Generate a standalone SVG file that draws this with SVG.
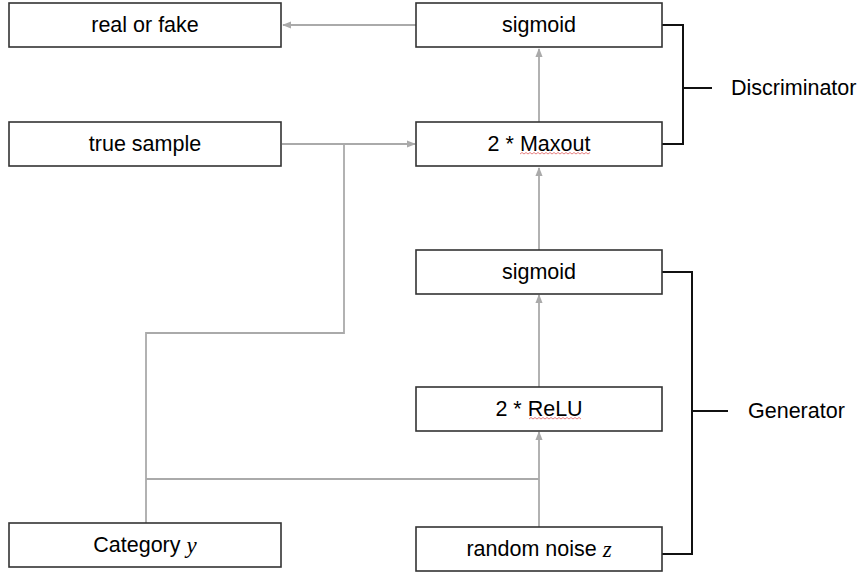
<svg xmlns="http://www.w3.org/2000/svg" width="861" height="574" viewBox="0 0 861 574">
<defs>
<style>
.box{fill:#fff;stroke:#333;stroke-width:1.6}
.lbl{font-family:"Liberation Sans",Arial,sans-serif;font-size:21.5px;fill:#000;text-anchor:middle;dominant-baseline:central}
.side{font-family:"Liberation Sans",Arial,sans-serif;font-size:21.5px;fill:#000;dominant-baseline:central}
.math{font-family:"Liberation Serif","Times New Roman",serif;font-style:italic;font-size:23px}
.conn{fill:none;stroke:#aaaaaa;stroke-width:1.8}
.brk{fill:none;stroke:#111;stroke-width:2}
.sq{fill:none;stroke:#e06060;stroke-width:0.8}
</style>
<marker id="arr" viewBox="0 0 10 10" refX="9" refY="5" markerWidth="5" markerHeight="5" orient="auto" markerUnits="strokeWidth">
<path d="M0,1 L10,5 L0,9 z" fill="#aaaaaa"/>
</marker>
</defs>
<rect width="861" height="574" fill="#fff"/>
<g id="connectors">
<path class="conn" d="M416,25 H283" marker-end="url(#arr)"/>
<path class="conn" d="M539,122 V49" marker-end="url(#arr)"/>
<path class="conn" d="M282,144 H415" marker-end="url(#arr)"/>
<path class="conn" d="M344,144 V333 H146 V523"/>
<path class="conn" d="M539,250 V168" marker-end="url(#arr)"/>
<path class="conn" d="M539,387 V295" marker-end="url(#arr)"/>
<path class="conn" d="M539,527 V432" marker-end="url(#arr)"/>
<path class="conn" d="M146,479 H539"/>
<path class="brk" d="M662,25 H683 V144 H662 M683,88 H712"/>
<path class="brk" d="M662,272 H692 V554 H662 M692,411 H728"/>
</g>
<g id="real_or_fake"><rect class="box" x="9" y="3" width="272" height="44"/><text class="lbl" x="145" y="25">real or fake</text></g>
<g id="sigmoid_d"><rect class="box" x="416" y="3" width="246" height="44"/><text class="lbl" x="539" y="25">sigmoid</text></g>
<g id="true_sample"><rect class="box" x="9" y="122" width="272" height="44"/><text class="lbl" x="145" y="144">true sample</text></g>
<g id="maxout"><rect class="box" x="416" y="122" width="246" height="44"/><text class="lbl" x="539" y="144">2 * Maxout</text>
<path class="sq" d="M520,154 l2,-1.5 l2,1.5 l2,-1.5 l2,1.5 l2,-1.5 l2,1.5 l2,-1.5 l2,1.5 l2,-1.5 l2,1.5 l2,-1.5 l2,1.5 l2,-1.5 l2,1.5 l2,-1.5 l2,1.5 l2,-1.5 l2,1.5 l2,-1.5 l2,1.5 l2,-1.5 l2,1.5 l2,-1.5 l2,1.5 l2,-1.5 l2,1.5 l2,-1.5 l2,1.5 l2,-1.5 l2,1.5 l2,-1.5 l2,1.5 l2,-1.5 l2,1.5 l2,-1.5"/></g>
<g id="sigmoid_g"><rect class="box" x="416" y="250" width="246" height="44"/><text class="lbl" x="539" y="272">sigmoid</text></g>
<g id="relu"><rect class="box" x="416" y="387" width="246" height="44"/><text class="lbl" x="539" y="409">2 * ReLU</text>
<path class="sq" d="M529,419 l2,-1.5 l2,1.5 l2,-1.5 l2,1.5 l2,-1.5 l2,1.5 l2,-1.5 l2,1.5 l2,-1.5 l2,1.5 l2,-1.5 l2,1.5 l2,-1.5 l2,1.5 l2,-1.5 l2,1.5 l2,-1.5 l2,1.5 l2,-1.5 l2,1.5 l2,-1.5 l2,1.5 l2,-1.5 l2,1.5 l2,-1.5 l2,1.5"/></g>
<g id="category"><rect class="box" x="9" y="523" width="272" height="44"/><text class="lbl" x="145" y="545">Category <tspan class="math">y</tspan></text></g>
<g id="noise"><rect class="box" x="416" y="527" width="246" height="44"/><text class="lbl" x="539" y="549">random noise <tspan class="math">z</tspan></text></g>
<g id="discriminator"><text class="side" x="731" y="88">Discriminator</text></g>
<g id="generator"><text class="side" x="748" y="411">Generator</text></g>
</svg>
